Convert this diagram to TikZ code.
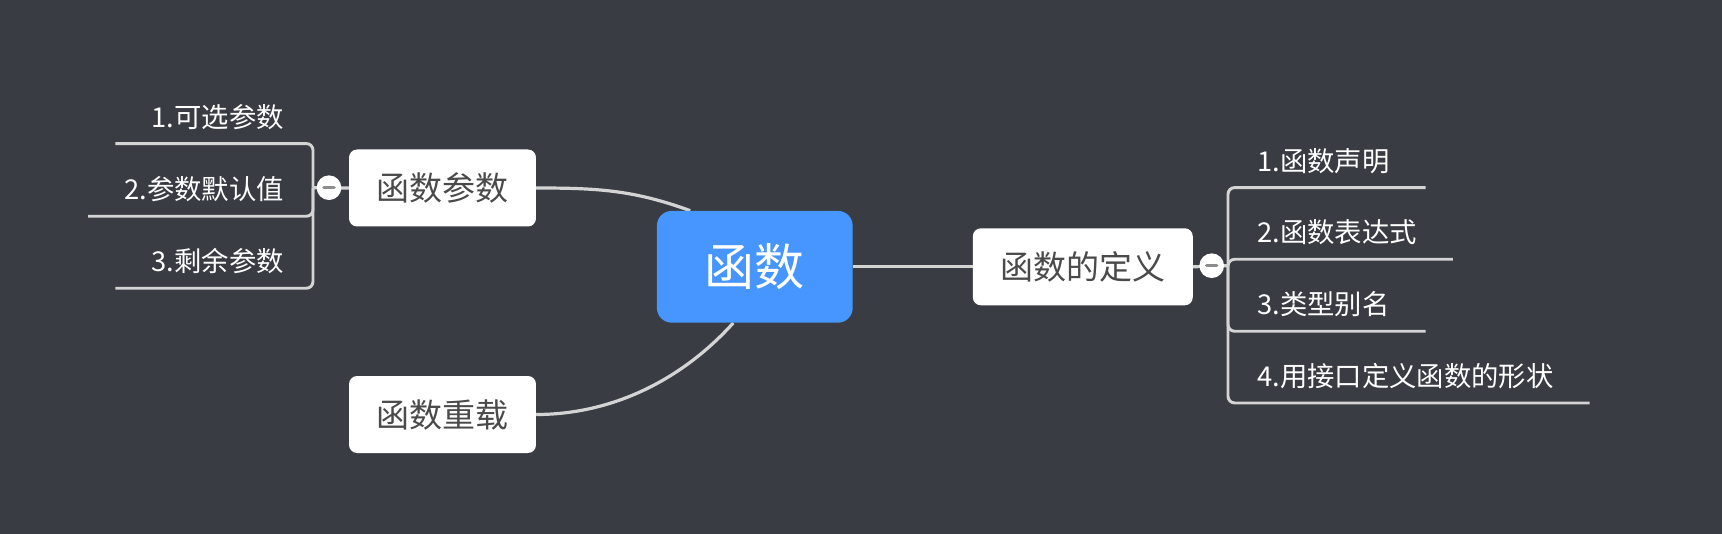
\documentclass[tikz,border=0pt]{standalone}
\usepackage{fontspec}
\newfontfamily\cjk{Noto Sans CJK SC}
\pgfdeclarelayer{bgfill}
\pgfdeclarelayer{links}
\pgfsetlayers{bgfill,links,main}
\definecolor{bgc}{HTML}{393C42}
\definecolor{rootc}{HTML}{4796FF}
\definecolor{linec}{HTML}{D4D4D4}
\definecolor{txtc}{HTML}{4A4A4A}
\definecolor{barc}{HTML}{8C8C8C}
\tikzset{
 rootbox/.style={fill=rootc, rounded corners=11pt, minimum width=146.8pt, minimum height=83.8pt, inner sep=0pt, text=white, font=\cjk\fontsize{37.5pt}{40pt}\selectfont},
 topicbox/.style={fill=white, rounded corners=6pt, minimum height=57.75pt, inner xsep=20.6pt, inner ysep=0pt, text=txtc, font=\cjk\fontsize{24.75pt}{28pt}\selectfont},
 itemtext/.style={inner sep=0pt, text=white, text depth=12pt, font=\cjk\fontsize{20.5pt}{24pt}\selectfont},
 link/.style={draw=linec, line width=2.4pt},
 bracket/.style={draw=linec, line width=2.2pt, rounded corners=5pt},
 foldmark/.style={circle, fill=white, minimum size=18.5pt, inner sep=0pt},
 foldbar/.style={draw=barc, line width=2.6pt, line cap=round},
}
\begin{document}
\begin{tikzpicture}[x=0.75pt,y=0.75pt]
\useasboundingbox (0,0) rectangle (1722,-534);
\begin{pgfonlayer}{bgfill}
\fill[bgc] (0,0) rectangle (1722,-534);
\end{pgfonlayer}

% main topics
\node[rootbox] (root) at (754.8,-266.8) {函数};
\node[topicbox] (par) at (442.5,-188) {函数参数};
\node[topicbox] (ovl) at (442.5,-414.5) {函数重载};
\node[topicbox] (def) at (1082.8,-266.8) {函数的定义};

% fold marks and junctions
\coordinate (jL) at (313,-187.7);
\coordinate (jR) at (1228,-265.7);
\node[foldmark] (cL) at (329,-187.7) {};
\node[foldmark] (cR) at (1211.7,-265.7) {};
\draw[foldbar] ([xshift=-3.8pt]cL.center) -- ([xshift=3.8pt]cL.center);
\draw[foldbar] ([xshift=-3.8pt]cR.center) -- ([xshift=3.8pt]cR.center);

% left items
\node[itemtext, anchor=base east] (l1) at (284,-127.3) {1.可选参数};
\node[itemtext, anchor=base east] (l2) at (284,-200) {2.参数默认值};
\node[itemtext, anchor=base east] (l3) at (284,-272) {3.剩余参数};

% right items
\node[itemtext, anchor=base west] (r1) at (1257,-171.3) {1.函数声明};
\node[itemtext, anchor=base west] (r2) at (1257,-243) {2.函数表达式};
\node[itemtext, anchor=base west] (r3) at (1257,-315) {3.类型别名};
\node[itemtext, anchor=base west] (r4) at (1257,-386.7) {4.用接口定义函数的形状};

\begin{pgfonlayer}{links}
\draw[link] (par.east) to[out=0,in=160] (root.139);
\draw[link] (ovl.east) to[out=0,in=228,looseness=0.9] (root.249);
\draw[link] (root) -- (def);
\draw[link] (par.west) -- (jL);
\draw[link] (def.east) -- (jR);
\draw[bracket] (jL) |- ([xshift=-27pt]l1.south west);
\draw[bracket] (jL) |- ([xshift=-27pt]l2.south west);
\draw[bracket] (jL) |- ([xshift=-27pt]l3.south west);
\draw[bracket] (jR) |- ([xshift=27pt]r1.south east);
\draw[bracket] (jR) |- ([xshift=27pt]r2.south east);
\draw[bracket] (jR) |- ([xshift=27pt]r3.south east);
\draw[bracket] (jR) |- ([xshift=27pt]r4.south east);
\end{pgfonlayer}
\end{tikzpicture}
\end{document}
